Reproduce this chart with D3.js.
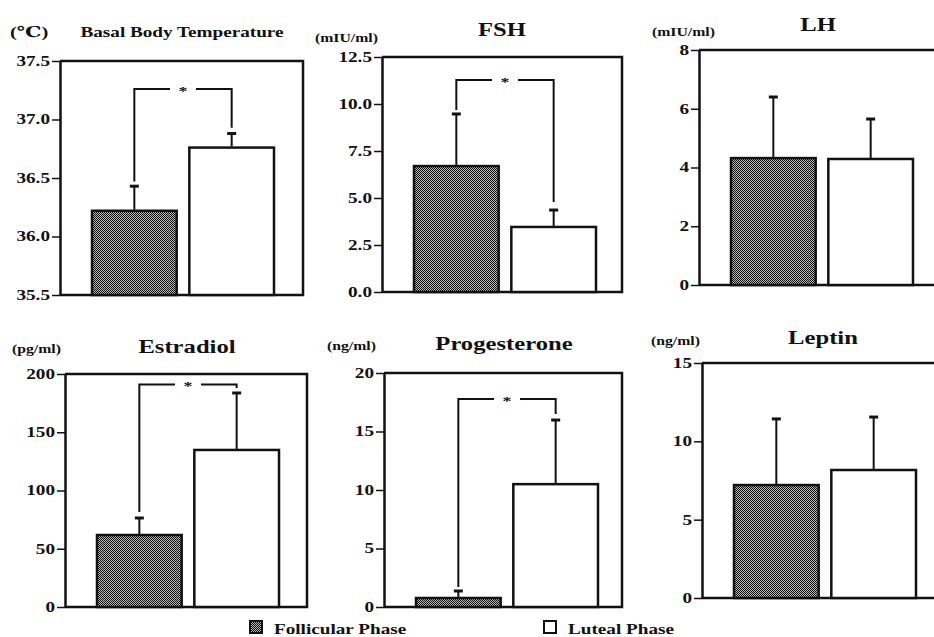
<!DOCTYPE html>
<html>
<head>
<meta charset="utf-8">
<script src="https://cdn.jsdelivr.net/npm/d3@7"></script>
<style>
  body { margin: 0; background: #fff; }
  svg text { font-family: "Liberation Serif", Tinos, "Times New Roman", Times, "DejaVu Serif", serif; font-weight: bold; fill: #111; }
</style>
</head>
<body>
<script>
// chart data
var phases = ["Follicular Phase", "Luteal Phase"];
var titles = ["Basal Body Temperature", "FSH", "LH", "Estradiol", "Progesterone", "Leptin"];
var units = ["(\u2103)", "(mIU/ml)", "(mIU/ml)", "(pg/ml)", "(ng/ml)", "(ng/ml)"];
var follicularMean = [36.22, 6.70, 4.32, 61.8, 0.77, 7.21];
var follicularSD = [0.21, 2.77, 2.08, 14.6, 0.60, 4.22];
var lutealMean = [36.76, 3.46, 4.29, 134.8, 10.5, 8.17];
var lutealSD = [0.12, 0.90, 1.36, 48.9, 5.48, 3.38];
var yMin = [35.5, 0, 0, 0, 0, 0];
var yMax = [37.5, 12.5, 8, 200, 20, 15];
var tickStep = [0.5, 2.5, 2, 50, 5, 5];
var tickDigits = [1, 1, 0, 0, 0, 0];
// significance brackets: level of the bar, and where each leg stops (null = no bracket)
var bracketLevel = [37.26, 11.28, null, 191, 17.78, null];
var bracketLeftEnd = [36.47, 9.68, null, 81.5, 1.7, null];
var bracketRightEnd = [36.93, 4.79, null, 188, 16.5, null];

// layout of the six panels (pixels)
var panelLeft = [60, 382, 699, 65, 384, 702];
var panelRight = [303, 622, 960, 307, 622, 960];
var panelTop = [61, 57, 50, 374, 373, 363];
var panelBottom = [295, 292, 285, 607, 607, 598];
var titleX = [182, 502, 818, 187, 504, 823];
var titleY = [37, 36, 31, 353, 350, 344];
var titleSize = [14, 18, 18, 18, 18, 18];
var unitX = [10, 315, 652, 12, 327, 651];
var unitY = [37, 42, 36, 353, 350, 345];
var stretch = 1.37; // the scan's lettering is wide
var serif = "'Liberation Serif', Tinos, 'Times New Roman', Times, 'DejaVu Serif', serif";

var svg = d3.select("body").append("svg")
  .attr("width", 934)
  .attr("height", 637);

// dark stipple fill for follicular bars
var pat = svg.append("defs").append("pattern")
  .attr("id", "stipple")
  .attr("width", 2).attr("height", 2)
  .attr("patternUnits", "userSpaceOnUse");
pat.append("rect").attr("width", 2).attr("height", 2).attr("fill", "#b8b8b8");
pat.append("rect").attr("width", 1).attr("height", 1).attr("fill", "#111");
pat.append("rect").attr("x", 1).attr("y", 1).attr("width", 1).attr("height", 1).attr("fill", "#111");

function wideText(sel, x, y, size, anchor, str) {
  return sel.append("text")
    .attr("transform", `translate(${x},${y}) scale(${stretch},1)`)
    .attr("text-anchor", anchor)
    .attr("font-family", serif)
    .attr("font-weight", "bold")
    .style("font-size", size + "px")
    .text(str);
}

titles.forEach(function(title, i) {
  var g = svg.append("g");

  var y = d3.scaleLinear()
    .domain([yMin[i], yMax[i]])
    .range([panelBottom[i], panelTop[i]]);

  var x = d3.scaleBand()
    .domain(phases)
    .range([panelLeft[i] + 32, panelLeft[i] + 214])
    .paddingInner(0.13);

  var rows = [
    {phase: phases[0], mean: follicularMean[i], sd: follicularSD[i]},
    {phase: phases[1], mean: lutealMean[i], sd: lutealSD[i]}
  ];

  // frame: top, right, bottom
  g.append("path")
    .attr("d", `M${panelLeft[i]},${panelTop[i]}H${panelRight[i]}V${panelBottom[i]}H${panelLeft[i]}`)
    .attr("fill", "none")
    .attr("stroke", "#111")
    .attr("stroke-width", 2.5);

  // bars
  g.selectAll(".bar")
    .data(rows)
    .enter()
    .append("rect")
    .attr("x", d => x(d.phase))
    .attr("y", d => y(d.mean))
    .attr("width", x.bandwidth())
    .attr("height", d => y(yMin[i]) - y(d.mean))
    .attr("fill", (d, k) => k == 0 ? "url(#stipple)" : "#fff")
    .attr("stroke", "#111")
    .attr("stroke-width", 2.5);

  // error bars (upper SD only)
  g.selectAll(".err")
    .data(rows)
    .enter()
    .append("line")
    .attr("x1", d => x(d.phase) + x.bandwidth() / 2)
    .attr("x2", d => x(d.phase) + x.bandwidth() / 2)
    .attr("y1", d => y(d.mean) - 1)
    .attr("y2", d => y(d.mean + d.sd))
    .attr("stroke", "#111")
    .attr("stroke-width", 2);
  g.selectAll(".cap")
    .data(rows)
    .enter()
    .append("line")
    .attr("x1", d => x(d.phase) + x.bandwidth() / 2 - 4.5)
    .attr("x2", d => x(d.phase) + x.bandwidth() / 2 + 4.5)
    .attr("y1", d => y(d.mean + d.sd))
    .attr("y2", d => y(d.mean + d.sd))
    .attr("stroke", "#111")
    .attr("stroke-width", 3);

  // significance bracket
  if (bracketLevel[i] != null) {
    var lx = x(phases[0]) + x.bandwidth() / 2;
    var rx = x(phases[1]) + x.bandwidth() / 2;
    var by = y(bracketLevel[i]);
    var mid = (lx + rx) / 2;
    g.append("path")
      .attr("d", `M${lx},${y(bracketLeftEnd[i])}V${by}H${mid - 13}M${mid + 13},${by}H${rx}V${y(bracketRightEnd[i])}`)
      .attr("fill", "none")
      .attr("stroke", "#111")
      .attr("stroke-width", 2);
    wideText(g, mid, by + 6, 13, "middle", "*");
  }

  // y axis
  var axis = g.append("g")
    .attr("transform", `translate(${panelLeft[i]},0)`)
    .call(d3.axisLeft(y)
      .tickValues(d3.range(yMin[i], yMax[i] + tickStep[i] / 2, tickStep[i]))
      .tickSize(8)
      .tickSizeOuter(0)
      .tickPadding(2)
      .tickFormat(d3.format(`.${tickDigits[i]}f`)));
  axis.attr("font-family", serif);
  axis.select(".domain").attr("stroke", "#111").attr("stroke-width", 2.5);
  axis.selectAll(".tick line").attr("stroke", "#111").attr("stroke-width", 1.5);
  axis.selectAll(".tick text")
    .attr("x", -10 / stretch)
    .attr("transform", `scale(${stretch},1)`)
    .attr("font-family", serif)
    .attr("font-weight", "bold")
    .style("font-size", "14px")
    .attr("fill", "#111");

  // panel title and unit
  wideText(g, titleX[i], titleY[i], titleSize[i], "middle", title);
  wideText(g, unitX[i], unitY[i], i == 0 ? 15 : 11.5, "start", units[i]);
});

// legend
var legendX = [250, 544];
var leg = svg.selectAll(".legend")
  .data(phases)
  .enter()
  .append("g")
  .attr("transform", (d, k) => `translate(${legendX[k]},621)`);
leg.append("rect")
  .attr("width", 12).attr("height", 12)
  .attr("fill", (d, k) => k == 0 ? "url(#stipple)" : "#fff")
  .attr("stroke", "#111")
  .attr("stroke-width", 2);
leg.each(function(d) {
  wideText(d3.select(this), 24, 13, 14, "start", d);
});
</script>
</body>
</html>
